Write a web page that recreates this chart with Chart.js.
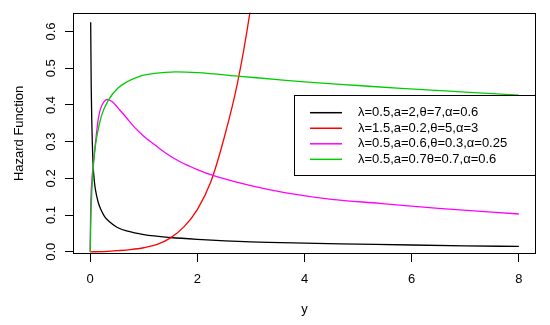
<!DOCTYPE html>
<html><head><meta charset="utf-8">
<script src="https://cdn.jsdelivr.net/npm/chart.js@4.4.0/dist/chart.umd.min.js"></script>
<style>html,body{margin:0;padding:0;background:#fff;}canvas{display:block;}</style>
</head><body>
<canvas id="c" width="550" height="325"></canvas>
<script>
// ---- data ----
const xTicks = [0, 2, 4, 6, 8];
const yTicks = [0.0, 0.1, 0.2, 0.3, 0.4, 0.5, 0.6];
const seriesLabels = [
  "λ=0.5,a=2,θ=7,α=0.6",
  "λ=1.5,a=0.2,θ=5,α=3",
  "λ=0.5,a=0.6,θ=0.3,α=0.25",
  "λ=0.5,a=0.7θ=0.7,α=0.6"
];
const seriesColors = ["#000000", "#FF0000", "#FF00FF", "#00CD00"];

const blackX = [0.01,0.02,0.03,0.04,0.056,0.08,0.1,0.15,0.2,0.27,0.35,0.5,0.7,1.0,1.5,2.0,3.0,4.0,5.0,6.0,7.0,8.0];
const blackY = [0.625,0.45,0.36,0.30,0.235,0.19,0.168,0.135,0.115,0.096,0.083,0.067,0.056,0.047,0.039,0.034,0.027,0.0235,0.021,0.0185,0.0163,0.0145];

const redX = [0,0.25,0.5,0.75,1.0,1.25,1.5,1.75,2.0,2.25,2.5,2.75,3.0,3.25];
const redY = [0,0.0005,0.003,0.006,0.011,0.02,0.038,0.068,0.115,0.19,0.31,0.46,0.67,0.95];

const magentaX = [0,0.01,0.03,0.056,0.09,0.12,0.15,0.19,0.25,0.32,0.4,0.46,0.55,0.65,0.83,1.0,1.2,1.4,1.67,2.0,2.29,3.0,3.63,4.5,5.4,6.5,8.0];
const magentaY = [0,0.12,0.19,0.235,0.285,0.325,0.36,0.388,0.407,0.415,0.41,0.402,0.387,0.37,0.339,0.315,0.292,0.27,0.246,0.224,0.208,0.18,0.161,0.143,0.132,0.118,0.103];

const greenX = [0,0.01,0.02,0.03,0.056,0.08,0.12,0.21,0.34,0.52,0.7,0.89,1.0,1.2,1.4,1.6,2.0,2.8,3.5,4.0,5.0,5.8,7.0,8.0];
const greenY = [0,0.07,0.12,0.16,0.225,0.265,0.31,0.37,0.413,0.446,0.464,0.476,0.481,0.486,0.489,0.490,0.488,0.478,0.469,0.463,0.453,0.445,0.435,0.427];

// ---- chart ----
Chart.defaults.font.family = '"Liberation Sans", Arial, Helvetica, sans-serif';
Chart.defaults.color = '#000';

const toPts = (xs, ys) => xs.map((x, i) => ({x: x, y: ys[i]}));
const seriesData = [toPts(blackX, blackY), toPts(redX, redY), toPts(magentaX, magentaY), toPts(greenX, greenY)];

const datasets = seriesData.map((d, i) => ({
  label: seriesLabels[i],
  data: d,
  borderColor: seriesColors[i],
  backgroundColor: seriesColors[i],
  borderWidth: 1.3,
  pointRadius: 0,
  showLine: true,
  fill: false,
  cubicInterpolationMode: 'monotone',
  order: 4 - i
}));

const boxPlugin = {
  id: 'box',
  afterDraw(chart) {
    const {ctx, chartArea: a} = chart;
    ctx.save();
    ctx.strokeStyle = '#000';
    ctx.lineWidth = 1;
    ctx.strokeRect(Math.round(a.left) + 0.5, Math.round(a.top) + 0.5,
                   Math.round(a.right - a.left) - 1, Math.round(a.bottom - a.top) - 1);
    // legend
    const lx = 294, ly = 95, lw = Math.round(a.right) - 1 - lx, lh = 80;
    ctx.fillStyle = '#fff';
    ctx.fillRect(lx, ly, lw, lh);
    ctx.strokeRect(lx + 0.5, ly + 0.5, lw, lh);
    ctx.font = '13px "Liberation Sans", Arial, sans-serif';
    ctx.textBaseline = 'middle';
    ctx.textAlign = 'left';
    chart.data.datasets.forEach((ds, i) => {
      const y = 112.7 + i * 15.55;
      ctx.strokeStyle = ds.borderColor;
      ctx.lineWidth = 1.5;
      ctx.beginPath();
      ctx.moveTo(310, y);
      ctx.lineTo(342, y);
      ctx.stroke();
      ctx.fillStyle = '#000';
      ctx.fillText(ds.label, 358, y);
    });
    ctx.restore();
  }
};

new Chart(document.getElementById('c'), {
  type: 'scatter',
  data: {datasets},
  options: {
    responsive: false,
    animation: false,
    devicePixelRatio: 1,
    layout: {padding: {top: 11, right: 14, left: 0, bottom: 0}},
    plugins: {legend: {display: false}, tooltip: {enabled: false}},
    scales: {
      x: {
        type: 'linear',
        min: -0.32, max: 8.32,
        afterBuildTicks: s => { s.ticks = xTicks.map(v => ({value: v})); },
        afterFit: s => { s.height = 71; },
        ticks: {autoSkip: false, maxRotation: 0, padding: 10, font: {size: 13}, color: '#000',
                callback: v => String(v)},
        grid: {drawOnChartArea: false, drawTicks: true, tickLength: 8, color: '#000', lineWidth: 1},
        border: {display: false},
        title: {display: true, text: 'y', font: {size: 13}, color: '#000', padding: {top: 0, bottom: 8}}
      },
      y: {
        type: 'linear',
        min: -0.006, max: 0.651,
        afterBuildTicks: s => { s.ticks = yTicks.map(v => ({value: v})); },
        afterFit: s => { s.width = 73; },
        ticks: {minRotation: 90, maxRotation: 90, crossAlign: 'center', padding: 5, font: {size: 13}, color: '#000',
                callback: v => Number(v).toFixed(1)},
        grid: {drawOnChartArea: false, drawTicks: true, tickLength: 8, color: '#000', lineWidth: 1},
        border: {display: false},
        title: {display: true, text: 'Hazard Function', font: {size: 13}, color: '#000', padding: {top: 12, bottom: 0}}
      }
    }
  },
  plugins: [boxPlugin]
});
</script>
</body></html>
